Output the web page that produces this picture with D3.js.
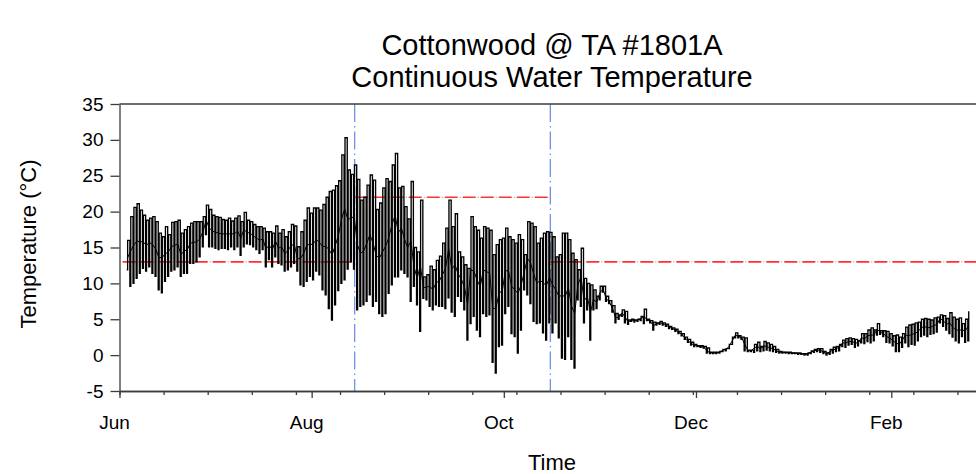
<!DOCTYPE html>
<html>
<head>
<meta charset="utf-8">
<script src="https://cdn.jsdelivr.net/npm/d3@7"></script>
<style>
  body { margin: 0; background: #fff; }
  svg { display: block; }
  text { font-family: "Liberation Sans", Arial, Helvetica, sans-serif; fill: #000; }
</style>
</head>
<body>
<svg id="chart" width="976" height="474"></svg>
<script>
// Logger record, one entry per day starting on firstDay
const firstDay = "2006-06-03";

const dailyMax = [
  16.0, 19.3, 20.6, 21.1, 20.2, 19.5, 18.8, 19.1, 19.3, 18.6,
  17.0, 16.5, 17.9, 16.8, 18.5, 18.6, 18.8, 17.0, 17.5, 17.9,
  18.4, 18.6, 18.6, 18.6, 19.3, 20.9, 20.3, 19.5, 19.3, 19.2,
  18.9, 18.8, 19.1, 18.7, 19.1, 19.4, 18.6, 19.9, 18.8, 18.6,
  18.2, 17.9, 17.9, 17.7, 17.2, 17.2, 17.0, 18.0, 17.0, 17.5,
  16.5, 17.2, 18.2, 18.0, 15.1, 17.2, 18.8, 20.5, 19.8, 20.5,
  20.5, 20.2, 21.0, 22.0, 22.8, 23.0, 23.6, 24.3, 27.9, 30.3,
  25.8, 25.2, 26.5, 24.5, 21.6, 22.0, 23.7, 25.1, 24.4, 20.3,
  21.2, 23.3, 24.6, 24.2, 26.5, 28.1, 23.3, 23.5, 20.7, 19.0,
  24.2, 15.0, 14.4, 21.6, 10.9, 11.2, 12.4, 11.9, 13.2, 13.8,
  15.6, 17.7, 21.6, 17.9, 19.7, 14.4, 13.7, 12.6, 12.1, 19.3,
  17.9, 17.4, 16.3, 17.9, 17.7, 17.4, 14.0, 15.4, 16.1, 16.3,
  17.7, 16.5, 16.1, 15.6, 16.8, 16.1, 14.0, 18.6, 18.4, 17.9,
  15.6, 16.3, 17.0, 17.2, 17.1, 16.5, 13.7, 14.0, 17.0, 17.0,
  16.1, 14.2, 13.3, 11.9, 14.9, 10.7, 10.0, 9.8, 9.1, 8.2,
  9.6, 9.6, 8.2, 7.6, 6.9, 5.8, 5.6, 6.3, 6.1, 4.9,
  5.0, 4.9, 5.0, 5.4, 6.4, 5.0, 4.8, 4.6, 4.5, 4.7,
  4.5, 4.3, 4.0, 3.8, 3.6, 3.3, 3.0, 2.5, 2.2, 1.8,
  1.5, 1.3, 1.3, 1.2, 1.0, 0.4, 0.4, 0.4, 0.5, 0.8,
  0.9, 1.5, 2.5, 3.1, 2.7, 2.5, 2.4, 0.7, 0.7, 1.5,
  1.8, 1.2, 1.9, 1.7, 1.5, 1.2, 0.8, 0.5, 0.4, 0.4,
  0.4, 0.3, 0.3, 0.3, 0.2, 0.2, 0.3, 0.6, 0.8, 0.9,
  0.9, 0.5, 0.3, 0.8, 1.1, 1.2, 1.5, 2.1, 2.3, 2.4,
  2.3, 2.2, 2.0, 3.0, 3.0, 3.5, 3.8, 3.5, 4.4, 3.4,
  3.4, 3.3, 3.0, 2.7, 2.8, 2.5, 3.0, 3.9, 4.2, 4.3,
  4.5, 4.6, 5.0, 5.1, 5.0, 4.9, 5.2, 5.3, 5.6, 5.5,
  5.1, 5.9, 5.3, 5.0, 5.2, 4.4, 5.0, 6.1
];

const dailyMin = [
  11.9, 9.6, 10.0, 10.7, 11.4, 12.1, 11.7, 12.3, 11.4, 11.0,
  9.1, 8.7, 10.3, 11.0, 11.7, 11.9, 12.3, 11.0, 11.4, 11.4,
  12.8, 12.8, 13.0, 13.7, 15.1, 16.8, 15.1, 15.1, 14.9, 14.7,
  14.9, 14.9, 14.7, 15.1, 14.7, 15.1, 13.9, 15.1, 15.5, 15.4,
  15.1, 14.7, 14.2, 14.7, 12.3, 13.3, 12.3, 13.7, 12.8, 12.6,
  11.7, 11.9, 12.3, 12.8, 11.7, 9.8, 9.6, 10.3, 11.0, 10.5,
  11.7, 11.2, 9.1, 8.4, 6.5, 4.9, 7.0, 9.0, 10.0, 10.5,
  12.0, 13.0, 12.0, 6.3, 6.8, 7.0, 7.5, 8.4, 6.8, 7.5,
  5.8, 5.4, 5.8, 8.6, 9.8, 10.9, 10.9, 11.9, 11.4, 10.9,
  7.5, 9.6, 7.0, 3.3, 7.9, 7.7, 6.8, 6.3, 7.0, 6.8,
  6.8, 6.5, 8.0, 6.0, 5.4, 8.2, 7.5, 6.3, 2.1, 4.4,
  5.4, 3.5, 2.6, 5.8, 5.4, 5.6, -1.0, -2.5, 1.2, 1.4,
  5.8, 6.8, 3.0, 2.6, 0.3, 3.5, 9.1, 8.4, 7.2, 4.7,
  4.4, 4.5, 3.1, 2.1, 4.5, 3.1, 4.5, 2.4, -0.4, -0.6,
  2.6, -0.6, -1.8, 7.7, 6.8, 4.5, 6.3, 2.1, 6.3, 6.5,
  7.7, 8.8, 7.5, 7.2, 6.0, 4.5, 5.0, 5.4, 4.5, 4.3,
  4.7, 4.6, 4.7, 4.8, 4.4, 4.8, 4.5, 3.5, 4.2, 4.3,
  4.2, 4.0, 3.7, 3.6, 3.3, 3.0, 2.7, 2.2, 1.8, 1.4,
  1.2, 1.2, 1.1, 1.0, 0.3, 0.2, 0.2, 0.2, 0.3, 0.5,
  0.6, 0.9, 1.5, 2.4, 2.4, 2.2, 0.6, 0.5, 0.5, 0.4,
  0.6, 0.5, 0.6, 0.7, 0.6, 0.5, 0.4, 0.3, 0.3, 0.3,
  0.2, 0.2, 0.2, 0.1, 0.1, 0.0, 0.0, 0.2, 0.4, 0.5,
  0.4, 0.2, 0.0, 0.1, 0.3, 0.5, 0.6, 1.2, 1.1, 1.4,
  1.5, 1.1, 1.3, 1.7, 1.6, 1.9, 1.7, 2.0, 2.8, 2.9,
  2.6, 1.8, 1.7, 1.3, 0.5, 0.5, 1.1, 1.7, 1.2, 1.5,
  1.4, 2.0, 2.6, 2.8, 2.6, 2.9, 3.0, 3.2, 4.5, 4.0,
  3.5, 3.0, 2.5, 2.0, 1.7, 2.6, 1.8, 2.0
];

const dailyMean = [
  13.5, 14.5, 15.3, 15.9, 15.8, 15.8, 15.3, 15.7, 15.4, 14.8,
  13.6, 13.6, 14.1, 14.4, 15.1, 15.3, 15.5, 14.0, 14.5, 14.7,
  15.6, 15.7, 15.8, 16.2, 17.2, 18.8, 17.7, 17.3, 17.1, 17.0,
  16.9, 16.9, 16.9, 16.9, 16.9, 17.3, 16.3, 17.5, 17.1, 17.0,
  16.6, 16.3, 16.0, 16.2, 14.8, 15.3, 14.7, 15.9, 14.9, 15.1,
  14.1, 14.6, 15.3, 15.4, 13.4, 13.5, 14.2, 15.4, 15.4, 15.5,
  16.1, 15.7, 15.1, 15.2, 14.7, 14.0, 15.3, 16.7, 19.0, 20.4,
  18.9, 19.1, 19.3, 15.4, 14.2, 14.5, 15.6, 16.8, 15.6, 13.9,
  13.5, 14.4, 15.2, 16.4, 18.2, 19.5, 17.1, 17.7, 16.1, 15.0,
  15.9, 12.3, 10.7, 12.5, 9.4, 9.5, 9.6, 9.1, 10.1, 10.3,
  11.2, 12.1, 14.8, 12.0, 12.6, 11.3, 10.6, 9.5, 7.1, 11.9,
  11.7, 10.5, 9.5, 11.9, 11.6, 11.5, 6.5, 6.5, 8.7, 8.9,
  11.8, 11.7, 9.6, 9.1, 8.6, 9.8, 11.6, 13.5, 12.8, 11.3,
  10.0, 10.4, 10.1, 9.7, 10.8, 9.8, 9.1, 8.2, 8.3, 8.2,
  9.4, 6.8, 5.8, 9.8, 10.9, 7.6, 8.2, 6.0, 7.7, 7.4,
  8.7, 9.2, 7.9, 7.4, 6.5, 5.2, 5.3, 5.9, 5.3, 4.6,
  4.9, 4.8, 4.9, 5.1, 5.4, 4.9, 4.7, 4.1, 4.4, 4.5,
  4.4, 4.2, 3.9, 3.7, 3.5, 3.2, 2.9, 2.4, 2.0, 1.6,
  1.4, 1.3, 1.2, 1.1, 0.6, 0.3, 0.3, 0.3, 0.4, 0.7,
  0.8, 1.2, 2.0, 2.8, 2.6, 2.4, 1.5, 0.6, 0.6, 1.0,
  1.2, 0.9, 1.3, 1.2, 1.0, 0.9, 0.6, 0.4, 0.4, 0.4,
  0.3, 0.3, 0.3, 0.2, 0.2, 0.1, 0.2, 0.4, 0.6, 0.7,
  0.7, 0.4, 0.2, 0.5, 0.7, 0.9, 1.1, 1.7, 1.7, 1.9,
  1.9, 1.7, 1.7, 2.4, 2.3, 2.7, 2.8, 2.8, 3.6, 3.2,
  3.0, 2.6, 2.4, 2.0, 1.7, 1.5, 2.1, 2.8, 2.7, 2.9,
  3.0, 3.3, 3.8, 4.0, 3.8, 3.9, 4.1, 4.3, 5.1, 4.8,
  4.3, 4.5, 3.9, 3.5, 3.5, 3.5, 3.4, 4.1
];

// Temperature criteria (°C) and the dates where they change
const criteriaValues = [13, 22, 13];
const criteriaBreaks = ["2006-06-02T00:00", "2006-08-14T16:00", "2006-10-15T18:00", "2007-03-01T00:00"];
const seasonMarkers = ["2006-08-14T16:00", "2006-10-15T18:00"];

// Axis ticks
const xDomain = ["2006-06-01", "2007-03-01"];
const monthTicks = ["2006-06-01", "2006-08-01", "2006-10-01", "2006-12-01", "2007-02-01"];
const monthLabels = ["Jun", "Aug", "Oct", "Dec", "Feb"];
const yTicks = [-5, 0, 5, 10, 15, 20, 25, 30, 35];

const titleLines = ["Cottonwood @ TA #1801A", "Continuous Water Temperature"];
const xTitle = "Time";
const yTitle = "Temperature (\u00B0C)";

// ---------------------------------------------------------------
const parseDay = d3.timeParse("%Y-%m-%d");
const parseStamp = d3.timeParse("%Y-%m-%dT%H:%M");

const svg = d3.select("#chart");
const plot = { left: 119.5, right: 979.5, top: 104, bottom: 391 };

const x = d3.scaleTime()
  .domain(xDomain.map(parseDay))
  .range([plot.left, plot.right]);
const y = d3.scaleLinear()
  .domain([-5, 35])
  .range([plot.bottom, plot.top]);

const start = parseDay(firstDay);

// Daily low early in the morning, daily high in the early afternoon
const readings = [];
dailyMax.forEach((hi, i) => {
  const day = d3.timeDay.offset(start, i);
  readings.push({ t: d3.timeHour.offset(day, 7), v: dailyMin[i] });
  readings.push({ t: d3.timeHour.offset(day, 14), v: hi });
});
const means = dailyMean.map((v, i) => ({ t: d3.timeHour.offset(d3.timeDay.offset(start, i), 12), v }));

const axisColor = "#3c3c3c";

// Criteria lines
const criteria = criteriaValues.map((v, i) => ({
  from: parseStamp(criteriaBreaks[i]),
  to: parseStamp(criteriaBreaks[i + 1]),
  v
}));
const crit = svg.append("g");
crit.selectAll("line.red").data(criteria).join("line")
  .attr("class", "red")
  .attr("x1", d => x(d.from)).attr("x2", d => x(d.to))
  .attr("y1", d => y(d.v)).attr("y2", d => y(d.v))
  .attr("stroke", "#ff3030").attr("stroke-width", 1.6)
  .attr("stroke-dasharray", "13,5");
crit.selectAll("line.dot").data(criteria).join("line")
  .attr("class", "dot")
  .attr("x1", d => x(d.from)).attr("x2", d => x(d.to))
  .attr("y1", d => y(d.v)).attr("y2", d => y(d.v))
  .attr("stroke", "#8fa3a3").attr("stroke-width", 1.2)
  .attr("stroke-dasharray", "1,17").attr("stroke-dashoffset", 3);

// Season markers
svg.append("g").selectAll("line").data(seasonMarkers.map(parseStamp)).join("line")
  .attr("x1", d => x(d)).attr("x2", d => x(d))
  .attr("y1", plot.top).attr("y2", plot.bottom)
  .attr("stroke", "#5a7fe0").attr("stroke-width", 1.1)
  .attr("stroke-dasharray", "18,4,1.5,4");

// Continuous record
svg.append("path")
  .datum(readings)
  .attr("fill", "none")
  .attr("stroke", "#000")
  .attr("stroke-width", 1.35)
  .attr("d", d3.line().x(d => x(d.t)).y(d => y(d.v)).curve(d3.curveStepAfter));

// Daily mean
svg.append("path")
  .datum(means)
  .attr("fill", "none")
  .attr("stroke", "#000")
  .attr("stroke-width", 1)
  .attr("d", d3.line().x(d => x(d.t)).y(d => y(d.v)));

// Frame top edge
svg.append("line")
  .attr("x1", plot.left).attr("x2", plot.right)
  .attr("y1", plot.top).attr("y2", plot.top)
  .attr("stroke", axisColor).attr("stroke-width", 1.3);

// X axis: biweekly minor ticks + bimonthly labelled ticks
const minorTicks = d3.timeDay.range(parseDay(xDomain[0]), parseDay(xDomain[1]), 14);
const xMinor = svg.append("g").attr("transform", `translate(0,${plot.bottom})`)
  .call(d3.axisBottom(x).tickValues(minorTicks).tickSize(4).tickSizeOuter(0).tickFormat(""));
const xMajor = svg.append("g").attr("transform", `translate(0,${plot.bottom})`)
  .call(d3.axisBottom(x).tickValues(monthTicks.map(parseDay)).tickSize(7).tickSizeOuter(0)
    .tickPadding(18).tickFormat((d, i) => monthLabels[i]));
[xMinor, xMajor].forEach(g => {
  g.selectAll("path, line").attr("stroke", axisColor).attr("stroke-width", 1.3);
});
xMajor.selectAll("text").attr("font-size", 19).attr("dx", -5.5).attr("fill", "#000");

// Y axis
const yAxis = svg.append("g").attr("transform", `translate(${plot.left},0)`)
  .call(d3.axisLeft(y).tickValues(yTicks).tickSize(9).tickSizeOuter(0).tickPadding(7)
    .tickFormat(d => String(d)));
yAxis.selectAll("path, line").attr("stroke", axisColor).attr("stroke-width", 1.3);
yAxis.selectAll("text").attr("font-size", 19).attr("fill", "#000");

// Titles
svg.append("g").selectAll("text").data(titleLines).join("text")
  .attr("x", 552).attr("y", (d, i) => 55 + i * 32)
  .attr("text-anchor", "middle").attr("font-size", 29)
  .text(d => d);

svg.append("text")
  .attr("x", 552).attr("y", 470)
  .attr("text-anchor", "middle").attr("font-size", 22)
  .text(xTitle);

svg.append("text")
  .attr("transform", "translate(36,244) rotate(-90)")
  .attr("text-anchor", "middle").attr("font-size", 22)
  .text(yTitle);
</script>
</body>
</html>
